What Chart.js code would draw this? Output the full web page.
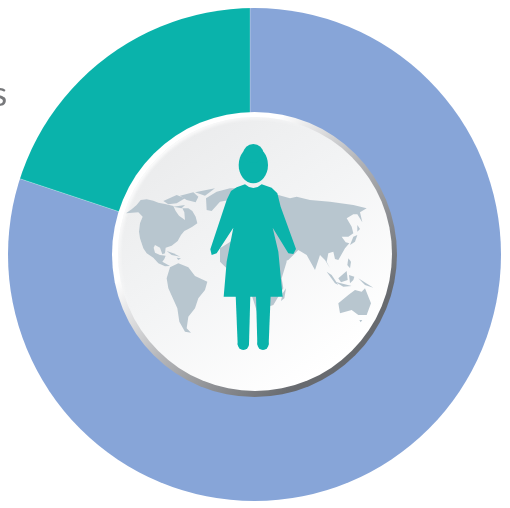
<!DOCTYPE html>
<html>
<head>
<meta charset="utf-8">
<script src="https://cdn.jsdelivr.net/npm/chart.js@4"></script>
<style>
html,body{margin:0;padding:0;background:#fff;width:510px;height:508px;overflow:hidden}
#c{position:absolute;left:-10px;top:-10px}
</style>
</head>
<body>
<canvas id="c" width="530" height="530" style="width:530px;height:530px"></canvas>
<script>
const categories = ['Other', 'Women'];
const shares = [80.1, 19.9];
const sliceColors = ['#87a5d8', '#0ab3ab'];
const clippedLabel = 's';

// Land outlines for the globe badge, in a 900-unit badge space.
const landShapes = [
  // North America
  [[63,325],[80,313],[95,300],[107,285],[125,283],[145,287],[160,293],[180,297],[205,303],[212,318],[222,332],[240,345],[238,322],[232,310],[250,310],[262,318],[272,335],[277,355],[262,365],[250,372],[238,378],[228,390],[218,408],[200,422],[182,428],[180,445],[172,448],[165,428],[150,420],[146,428],[150,443],[165,450],[182,452],[178,462],[172,470],[195,483],[180,484],[160,475],[145,458],[125,445],[115,430],[105,400],[102,380],[105,355],[113,335],[100,322]],
  // Greenland
  [[303,280],[335,260],[375,250],[420,250],[400,280],[345,290],[320,318],[305,315]],
  // Arctic islands
  [[175,288],[215,270],[240,280],[215,295],[190,298]],[[225,272],[265,262],[280,275],[272,292],[245,285]],[[270,262],[330,250],[300,272]],[[205,305],[240,300],[230,310]],
  // Cuba, Hispaniola
  [[185,438],[205,445],[226,455],[200,450]],[[215,458],[228,460],[220,465]],
  // South America
  [[195,487],[220,475],[250,487],[270,513],[307,530],[300,555],[280,580],[270,610],[250,635],[245,670],[258,683],[240,680],[223,650],[217,610],[190,550],[185,520]],
  // Africa
  [[345,430],[400,395],[530,400],[545,470],[530,520],[535,550],[505,600],[455,617],[440,570],[420,510],[365,490],[345,470]],
  // Madagascar
  [[533,565],[543,550],[538,580],[528,588]],
  // Eurasia
  [[400,270],[520,270],[555,280],[575,275],[615,285],[675,290],[745,300],[785,310],[765,322],[772,352],[757,328],[745,328],[725,340],[740,365],[745,385],[730,395],[710,395],[722,412],[733,415],[720,430],[700,465],[690,462],[685,440],[670,445],[665,470],[675,490],[660,465],[645,450],[630,495],[605,450],[580,435],[565,450],[550,465],[525,475],[495,400],[400,380]],
  // Japan
  [[757,390],[750,410],[735,420],[745,395]],[[757,360],[765,372],[757,380]],
  // Sumatra, Java, Borneo, Sulawesi, New Guinea
  [[665,500],[680,510],[700,540],[690,535]],[[690,530],[740,543],[715,545]],[[700,520],[725,498],[728,525],[708,532]],[[732,510],[748,515],[745,525],[735,535]],[[760,520],[805,548],[780,540]],
  // Philippines
  [[730,460],[738,470],[735,490],[727,480]],
  // Australia
  [[700,595],[730,570],[750,555],[770,560],[780,550],[798,595],[785,630],[760,630],[740,615],[705,625]],
  [[763,645],[772,645],[767,652]]
];
// Woman figure outline, same badge space.
const figureOutline = [[420,238],[432,246],[445,249],[458,246],[470,238],[500,248],[517,265],[527,305],[573,432],[565,447],[550,445],[503,368],[520,440],[533,575],[356,575],[365,470],[385,368],[335,445],[320,450],[316,433],[365,285],[378,258],[395,247]];
// Tapered legs: top-left, top-right, bottom-right, bottom-left x values.
const legOutlines = [[392,436,432,398],[453,497,491,457]];

function polygon(ctx, pts){
  ctx.beginPath();
  pts.forEach((p,i)=> i ? ctx.lineTo(p[0],p[1]) : ctx.moveTo(p[0],p[1]));
  ctx.closePath();
  ctx.fill();
}
function drawBadge(ctx, cx, cy){
  // Bevelled rim: a full ring shading from white to dark grey.
  const rim = ctx.createLinearGradient(cx-100,cy-100,cx+110,cy+110);
  rim.addColorStop(0.22,'#ffffff');
  rim.addColorStop(0.5,'#b6b7ba');
  rim.addColorStop(0.9,'#676a6f');
  ctx.fillStyle = rim;
  ctx.beginPath(); ctx.arc(cx+4.5,cy-0.5,142.5,0,Math.PI*2); ctx.fill();
  const face = ctx.createLinearGradient(cx-80,cy-110,cx+80,cy+110);
  face.addColorStop(0,'#ebeced');
  face.addColorStop(0.45,'#f3f4f5');
  face.addColorStop(1,'#ffffff');
  ctx.fillStyle = face;
  ctx.beginPath(); ctx.arc(cx+5,cy-1,137,0,Math.PI*2); ctx.fill();

  // Soft highlight where the upper-left rim melts into the face.
  ctx.save();
  ctx.beginPath(); ctx.arc(cx+5,cy-1,137,0,Math.PI*2); ctx.clip();
  const glow = ctx.createLinearGradient(cx-100,cy-100,cx-30,cy-30);
  glow.addColorStop(0,'rgba(255,255,255,0.9)');
  glow.addColorStop(1,'rgba(255,255,255,0)');
  ctx.strokeStyle = glow;
  ctx.lineWidth = 5;
  ctx.filter = 'blur(1.5px)';
  ctx.beginPath(); ctx.arc(cx+5,cy-1,137,0,Math.PI*2); ctx.stroke();
  ctx.restore();

  ctx.save();
  ctx.translate(105,105); ctx.scale(1/3,1/3);
  ctx.fillStyle = '#b8c6cf';
  landShapes.forEach(s=>polygon(ctx,s));
  ctx.fillStyle = sliceColors[1];
  polygon(ctx,figureOutline);
  // Head with hair bun
  ctx.beginPath(); ctx.ellipse(445,180,44,55,0,0,Math.PI*2); ctx.fill();
  ctx.beginPath(); ctx.ellipse(445,145,30,28,0,0,Math.PI*2); ctx.fill();
  // Legs with rounded feet
  legOutlines.forEach(l=>{
    polygon(ctx,[[l[0],570],[l[1],570],[l[2],718],[l[3],718]]);
    ctx.beginPath();
    ctx.arc((l[2]+l[3])/2,718,(l[2]-l[3])/2,0,Math.PI*2);
    ctx.fill();
  });
  ctx.restore();
}

const badgePlugin = {
  id:'badge',
  beforeDatasetsDraw(chart){
    const ctx = chart.ctx, a = chart.getDatasetMeta(0).data[0];
    ctx.save();
    // The ring is trimmed by a circle slightly right of the slices' apex.
    ctx.beginPath(); ctx.arc(a.x+4.5,a.y-0.5,246.5,0,Math.PI*2); ctx.clip();
  },
  afterDatasetsDraw(chart){
    const ctx = chart.ctx, a = chart.getDatasetMeta(0).data[0];
    ctx.restore();
    ctx.save();
    ctx.translate(10,10);
    drawBadge(ctx,a.x-10,a.y-10);
    ctx.fillStyle = '#77787b';
    ctx.font = '35px Lato, sans-serif';
    ctx.textBaseline = 'alphabetic';
    ctx.fillText(clippedLabel,-8,106);
    ctx.restore();
  }
};

new Chart(document.getElementById('c'),{
  type:'doughnut',
  data:{labels:categories,datasets:[{data:shares,backgroundColor:sliceColors,borderColor:'rgba(255,255,255,0.2)',borderWidth:1}]},
  options:{
    responsive:false,animation:false,cutout:'50%',
    layout:{padding:{right:10}},
    plugins:{legend:{display:false},tooltip:{enabled:false}}
  },
  plugins:[badgePlugin]
});
</script>
</body>
</html>
